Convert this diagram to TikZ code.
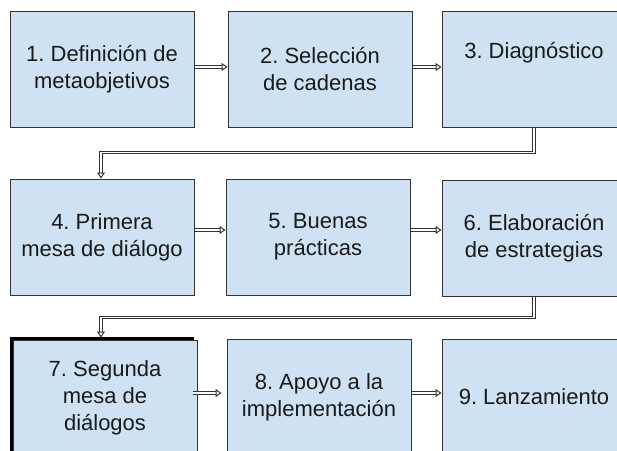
\documentclass[tikz,border=0pt]{standalone}
\usepackage{fontspec}
\setmainfont{Liberation Sans}
\usetikzlibrary{arrows.meta,calc,shadows}
\definecolor{boxfill}{HTML}{CFE2F3}
\definecolor{boxline}{HTML}{333333}
\definecolor{txtcol}{HTML}{1A1A1A}
\frenchspacing
\begin{document}
\begin{tikzpicture}[x=1pt,y=-1pt,
  stepbox/.style={draw=boxline, fill=boxfill, line width=1pt, minimum width=184pt, minimum height=116pt, inner sep=0pt, align=center, font=\fontsize{22}{27}\selectfont, text=txtcol},
  lbl/.style={font=\fontsize{22}{27}\selectfont, text=txtcol, inner sep=0pt},
  flow/.style={draw=boxline, line width=1pt, double=white, double distance=1.6pt, -{Triangle[open,length=6pt,width=8pt,line width=1pt]}}]
\useasboundingbox (0,0) rectangle (617,450);
\clip (0,0) rectangle (617,450);
% row 1
\node[stepbox] (n1) at (102,69) {1. Definición de\\metaobjetivos};
\node[stepbox] (n2) at (320,69) {2. Selección\\de cadenas};
\node[stepbox] (n3) at (534,69) {};
\node[lbl] (t3) at ($(n3.north)+(0,42)$) {3. Diagnóstico};
% row 2
\node[stepbox] (n4) at (102,237) {4. Primera\\mesa de diálogo};
\node[stepbox] (n5) at (318,237) {5. Buenas\\prácticas};
\node[stepbox] (n6) at (534,238) {6. Elaboración\\de estrategias};
% row 3
\node[stepbox, drop shadow={shadow xshift=-3pt, shadow yshift=3pt, opacity=1, fill=black}] (n7) at (105,398) {7. Segunda\\mesa de\\diálogos};
\node[stepbox] (n8) at (319,397) {8. Apoyo a la\\implementación};
\node[stepbox] (n9) at (534,397) {9. Lanzamiento};
% connectors
\draw[flow] ([yshift=2pt]n1.east) -- ([yshift=2pt]n1.east -| n2.west);
\draw[flow] ([yshift=2pt]n2.east) -- ([yshift=2pt]n2.east -| n3.west);
\draw[flow] ([yshift=7pt]n4.east) -- ([yshift=7pt]n4.east -| n5.west);
\draw[flow] ([yshift=7pt]n5.east) -- ([yshift=7pt]n5.east -| n6.west);
\draw[flow] ([xshift=-5pt,yshift=5pt]n7.east) -- ([xshift=-5pt,yshift=5pt]n7.east -| n8.west);
\draw[flow] ([yshift=4pt]n8.east) -- ([yshift=4pt]n8.east -| n9.west);
\draw[flow] (n3.south) -- ++(0,25) -| ([xshift=-1pt]n4.north);
\draw[flow] (n6.south) -- ++(0,21) -| ([xshift=-4pt,yshift=2pt]n7.north);
\end{tikzpicture}
\end{document}
